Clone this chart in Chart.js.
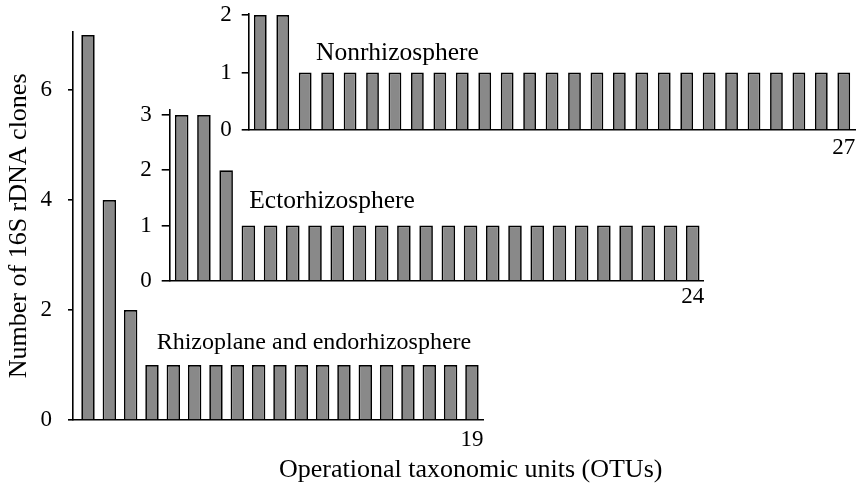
<!DOCTYPE html>
<html>
<head>
<meta charset="utf-8">
<script src="https://cdn.jsdelivr.net/npm/chart.js@4.4.1/dist/chart.umd.min.js"></script>
<style>
  html, body { margin: 0; padding: 0; background: #fff; }
  #wrap { position: relative; width: 857px; height: 487px; overflow: hidden; }
  #wrap canvas { position: absolute; left: 0; top: 0; }
</style>
</head>
<body>
<div id="wrap">
  <canvas id="cRhizo" width="857" height="487"></canvas>
  <canvas id="cEcto" width="857" height="487"></canvas>
  <canvas id="cNon" width="857" height="487"></canvas>
</div>
<script>
// ---- data ----
const rhizoplaneCounts = [7, 4, 2, 1, 1, 1, 1, 1, 1, 1, 1, 1, 1, 1, 1, 1, 1, 1, 1];                 // 19 OTUs
const ectorhizosphereCounts = [3, 3, 2, 1, 1, 1, 1, 1, 1, 1, 1, 1, 1, 1, 1, 1, 1, 1, 1, 1, 1, 1, 1, 1]; // 24 OTUs
const nonrhizosphereCounts = [2, 2, 1, 1, 1, 1, 1, 1, 1, 1, 1, 1, 1, 1, 1, 1, 1, 1, 1, 1, 1, 1, 1, 1, 1, 1, 1]; // 27 OTUs

const rhizoplaneYTicks = [0, 2, 4, 6];
const ectorhizosphereYTicks = [0, 1, 2, 3];
const nonrhizosphereYTicks = [0, 1, 2];

const rhizoplaneXTicks = [19];
const ectorhizosphereXTicks = [24];
const nonrhizosphereXTicks = [27];

const panelNames = ['Rhizoplane and endorhizosphere', 'Ectorhizosphere', 'Nonrhizosphere'];
const yAxisTitle = 'Number of 16S rDNA clones';
const xAxisTitle = 'Operational taxonomic units (OTUs)';

// ---- styling ----
const SERIF = '"Liberation Serif", "Times New Roman", Times, serif';
Chart.defaults.font.family = SERIF;
Chart.defaults.color = '#000';
const W = 857, H = 487;

const panelText = {
  id: 'panelText',
  afterDraw(chart, args, opts) {
    const ctx = chart.ctx;
    (opts.items || []).forEach(it => {
      ctx.save();
      ctx.font = it.size + 'px ' + SERIF;
      ctx.fillStyle = '#000';
      ctx.textAlign = 'left';
      ctx.textBaseline = 'alphabetic';
      let x = it.x, y = it.y;
      if (it.data) {
        x = chart.scales.x.getPixelForValue(it.x);
        y = chart.scales.y.getPixelForValue(it.y);
      }
      ctx.fillText(it.text, x, y);
      ctx.restore();
    });
  }
};

function makePanel(id, counts, yTicks, xTicks, cfg) {
  const yScale = {
    min: 0,
    max: cfg.yMax,
    afterBuildTicks: s => { s.ticks = yTicks.map(v => ({ value: v })); },
    grid: { display: true, drawOnChartArea: false, drawTicks: true, tickLength: cfg.tickLen, color: '#000', lineWidth: 1.6 },
    border: { display: true, color: '#000', width: 1.6 },
    ticks: { color: '#000', font: { family: SERIF, size: 23 }, padding: cfg.yPad },
    afterFit: s => {
      s.width = cfg.left;
      s.paddingTop = 0; s.paddingBottom = 0; s.paddingLeft = 0; s.paddingRight = 0;
    }
  };
  if (cfg.yTitle) {
    yScale.title = { display: true, text: cfg.yTitle, color: '#000', font: { family: SERIF, size: 26 }, padding: { top: 3.6, bottom: 0 } };
  }
  return new Chart(document.getElementById(id), {
    type: 'bar',
    data: {
      datasets: [{
        data: counts.map((v, i) => ({ x: i + 1, y: v })),
        backgroundColor: '#898989',
        borderColor: '#000',
        borderWidth: 1.7,
        barPercentage: cfg.barPct,
        categoryPercentage: 1
      }]
    },
    options: {
      responsive: false,
      animation: false,
      devicePixelRatio: 1,
      layout: { padding: { top: cfg.top, right: W - cfg.right, bottom: 0, left: 0 } },
      plugins: {
        legend: { display: false },
        tooltip: { enabled: false },
        panelText: { items: cfg.texts }
      },
      scales: {
        x: {
          type: 'linear',
          min: cfg.xMin,
          max: cfg.xMax,
          offset: false,
          afterBuildTicks: s => { s.ticks = xTicks.map(v => ({ value: v })); },
          grid: { display: false, drawTicks: false },
          border: { display: true, color: '#000', width: 1.6 },
          ticks: { color: '#000', font: { family: SERIF, size: 23 }, padding: cfg.xPad, maxRotation: 0, autoSkip: false },
          afterFit: s => {
            s.height = H - cfg.bottom;
            s.paddingTop = 0; s.paddingBottom = 0; s.paddingLeft = 0; s.paddingRight = 0;
          }
        },
        y: yScale
      }
    },
    plugins: [panelText]
  });
}

// Main panel: Rhizoplane and endorhizosphere
makePanel('cRhizo', rhizoplaneCounts, rhizoplaneYTicks, rhizoplaneXTicks, {
  left: 72.7, top: 31.7, right: 483.3, bottom: 420,
  yMax: 7.06, xMin: 0.283, xMax: 19.533, barPct: 0.63,
  tickLen: 4.7, yPad: 16, xPad: 6, yTitle: yAxisTitle,
  texts: [
    { text: panelNames[0], data: true, x: 4.22, y: 1.285, size: 24 },
    { text: xAxisTitle, data: false, x: 279, y: 477, size: 26 }
  ]
});

// Inset: Ectorhizosphere
makePanel('cEcto', ectorhizosphereCounts, ectorhizosphereYTicks, ectorhizosphereXTicks, {
  left: 169.3, top: 110, right: 703.3, bottom: 280.7,
  yMax: 3.092, xMin: 0.442, xMax: 24.475, barPct: 0.61,
  tickLen: 7.6, yPad: 10, xPad: 2.2,
  texts: [ { text: panelNames[1], data: true, x: 4.04, y: 1.31, size: 25.5 } ]
});

// Inset: Nonrhizosphere
makePanel('cNon', nonrhizosphereCounts, nonrhizosphereYTicks, nonrhizosphereXTicks, {
  left: 248.3, top: 14, right: 855, bottom: 130,
  yMax: 2.017, xMin: 0.465, xMax: 27.5, barPct: 0.57,
  tickLen: 6.6, yPad: 10, xPad: 4.2,
  texts: [ { text: panelNames[2], data: true, x: 3.48, y: 1.217, size: 25.5 } ]
});
</script>
</body>
</html>
